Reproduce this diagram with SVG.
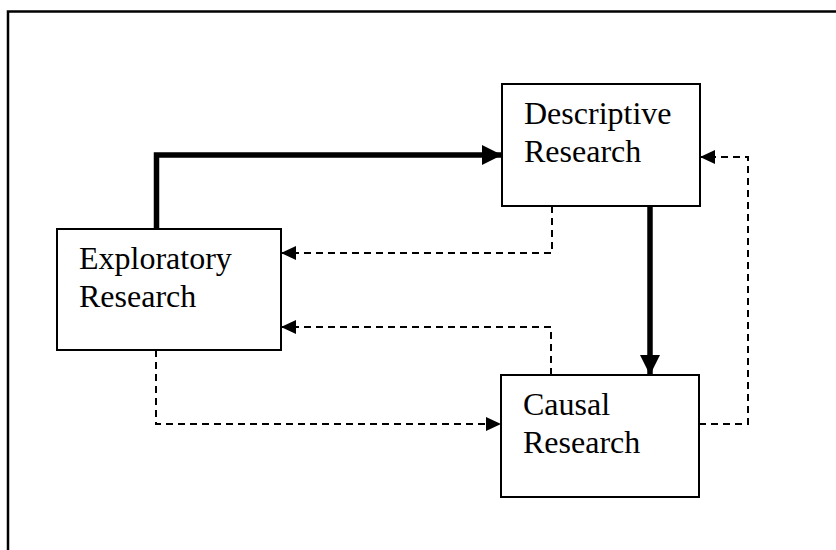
<svg xmlns="http://www.w3.org/2000/svg" width="836" height="550" viewBox="0 0 836 550">
<style>
.box{fill:#fff;stroke:#000;stroke-width:2}
.lbl{font-family:"Liberation Serif","Times New Roman",serif;font-size:32px;fill:#000}
.thick{fill:none;stroke:#000;stroke-width:5.5}
.dash{fill:none;stroke:#000;stroke-width:2;stroke-dasharray:7,5}
</style>
<defs>
<marker id="bigArrow" markerUnits="userSpaceOnUse" markerWidth="22" markerHeight="22" refX="20" refY="11" orient="auto">
<path d="M0,1 L20,11 L0,21 Z" fill="#000"/>
</marker>
<marker id="smallArrow" markerUnits="userSpaceOnUse" markerWidth="17" markerHeight="15" refX="15" refY="7.5" orient="auto">
<path d="M0,0.5 L15,7.5 L0,14.5 Z" fill="#000"/>
</marker>
</defs>
<rect x="0" y="0" width="836" height="550" fill="#fff"/>
<path d="M8,550 V11.5 H836" fill="none" stroke="#000" stroke-width="2.5"/>
<g id="connectors">
<path class="thick" d="M156.5,229 V155 H502" marker-end="url(#bigArrow)"/>
<path class="thick" d="M650,206 V375" marker-end="url(#bigArrow)"/>
<path class="dash" d="M552,206 V253 H281" marker-end="url(#smallArrow)"/>
<path class="dash" d="M551,375 V327 H281" marker-end="url(#smallArrow)"/>
<path class="dash" d="M156,350 V424 H501" marker-end="url(#smallArrow)"/>
<path class="dash" d="M699,424 H748 V157 H700" marker-end="url(#smallArrow)"/>
</g>
<g id="exploratory">
<rect class="box" x="57" y="229" width="224" height="121"/>
<text class="lbl" x="79" y="269">Exploratory</text>
<text class="lbl" x="79" y="307">Research</text>
</g>
<g id="descriptive">
<rect class="box" x="502" y="84" width="198" height="122"/>
<text class="lbl" x="524" y="124">Descriptive</text>
<text class="lbl" x="524" y="162">Research</text>
</g>
<g id="causal">
<rect class="box" x="501" y="375" width="198" height="122"/>
<text class="lbl" x="523" y="415">Causal</text>
<text class="lbl" x="523" y="453">Research</text>
</g>
</svg>
